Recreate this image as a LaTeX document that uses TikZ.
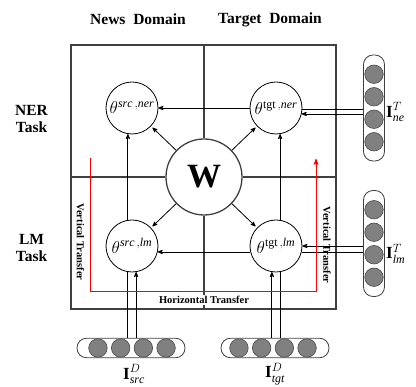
\documentclass[tikz,border=0pt]{standalone}
\usepackage{amsmath}
\usepackage{fontspec}
\setmainfont{Liberation Serif}
\usetikzlibrary{positioning,arrows}

\begin{document}
\begin{tikzpicture}[>=stealth',x=1pt,y=-1pt,
  state/.style={circle,draw,line width=0.8pt,minimum size=52pt,inner sep=0pt,font=\fontsize{17}{17}\selectfont},
  frame/.style={draw=black!75,line width=1.3pt},
  pill/.style={draw=black!75,line width=0.8pt,rounded corners=9.5pt,inner sep=0pt},
  unit/.style={circle,draw=black!70,fill=black!50,line width=0.6pt,minimum size=18.5pt,inner sep=0pt},
  head/.style={font=\fontsize{15.5}{18}\selectfont\bfseries},
  task/.style={font=\fontsize{15.5}{17}\selectfont\bfseries,align=center},
  transfer/.style={font=\fontsize{10.5}{12}\selectfont\bfseries},
  inlabel/.style={font=\fontsize{17}{17}\selectfont,inner sep=0pt},
  link/.style={->,line width=0.8pt},
  plain/.style={line width=0.8pt}]

    \useasboundingbox (0,0) rectangle (416,387);

    % The grid
    \node [frame,minimum width=265pt,minimum height=264pt,inner sep=0pt] at (203.5,177) (grid) {};
    \node [circle,frame,minimum size=76pt,inner sep=0pt,font=\fontsize{34}{34}\selectfont\bfseries] at (204,177) (W) {W};
    \draw [frame] (W.north) -- (W.north |- grid.north);
    \draw [frame] (W.south) -- (W.south |- grid.south);
    \draw [frame] (W.west) -- (W.west -| grid.west);
    \draw [frame] (W.east) -- (W.east -| grid.east);

    \node [head] at (138,19.5) (news) {News\ \ Domain};
    \node [head] at (270,19.5) (target) {Target\ \ Domain};
    \node [task] at (31.5,119) (ner) {NER\\Task};
    \node [task] at (31.5,248) (lm) {LM\\Task};

    % Parameters
    \node [state] at (132,108) (srcner) {$\theta^{\mathit{src}\,,\mathit{ner}}$};
    \node [state] at (276,108) (tgtner) {$\theta^{\mathrm{tgt}\,,\mathit{ner}}$};
    \node [state] at (132,246) (srclm) {$\theta^{\mathit{src}\,,\mathit{lm}}$};
    \node [state] at (276,246) (tgtlm) {$\theta^{\mathrm{tgt}\,,\mathit{lm}}$};

    % Inputs
    \node [pill,minimum width=21pt,minimum height=106pt] at (374,108) (nepill) {};
    \node [pill,minimum width=21pt,minimum height=106pt] at (374,243.5) (lmpill) {};
    \node [pill,minimum width=108pt,minimum height=19.5pt] at (131,348) (srcpill) {};
    \node [pill,minimum width=108pt,minimum height=19.5pt] at (275,348) (tgtpill) {};
    \foreach \i in {1,...,4} {
      \node [unit] at (374,{108+(\i-2.5)*22.5}) (ne\i) {};
      \node [unit] at (374,{243.5+(\i-2.5)*22.5}) (lm\i) {};
      \node [unit] at ({132+(\i-2.5)*22.7},348) (src\i) {};
      \node [unit] at ({273+(\i-2.5)*22.7},348) (tgt\i) {};
    }

    \node [inlabel,anchor=west] at (386,112) (nein) {$\mathbf{I}^{T}_{\mathit{ne}}$};
    \node [inlabel,anchor=west] at (386,254) (lmin) {$\mathbf{I}^{T}_{\mathit{lm}}$};
    \node [inlabel] at (134,374) (srcin) {$\mathbf{I}^{D}_{\mathit{src}}$};
    \node [inlabel] at (275,374) (tgtin) {$\mathbf{I}^{D}_{\mathit{tgt}}$};

    % Edges
    \draw [link] (tgtner) -- (srcner);
    \draw [link] (tgtlm.193) -- (srclm.347);
    \draw [link] (srclm.99) -- (srcner.261);
    \draw [link] (tgtlm.81) -- (tgtner.279);
    \draw [link,shorten >=2pt] (W) -- (srcner);
    \draw [link,shorten >=2pt] (W) -- (tgtner);
    \draw [link,shorten >=2pt] (W) -- (srclm);
    \draw [link,shorten >=2pt] (W) -- (tgtlm);

    \draw [plain] (tgtner.358) -- (tgtner.358 -| nepill.west);
    \draw [link] (tgtner.347 -| nepill.west) -- (tgtner.347);
    \draw [link] (tgtlm.east -| lmpill.west) -- (tgtlm.east);
    \draw [plain] (tgtlm.347) -- (tgtlm.347 -| lmpill.west);
    \draw [plain] (srclm.261) -- (srclm.261 |- srcpill.north);
    \draw [link] (srclm.279 |- srcpill.north) -- (srclm.279);
    \draw [link] (tgtlm.261 |- tgtpill.north) -- (tgtlm.261);
    \draw [plain] (tgtlm.279) -- (tgtlm.279 |- tgtpill.north);

    % Transfer
    \coordinate (vstart) at (90,158);
    \coordinate (vend) at (316,159);
    \coordinate (hbase) at (204,292);
    \draw [->,red,line width=1pt] (vstart) -- (vstart |- hbase) -- (vend |- hbase) -- (vend);
    \node [transfer,rotate=-90] at (80.5,242) (vleft) {Vertical Transfer};
    \node [transfer,rotate=-90] at (327,245) (vright) {Vertical Transfer};
    \node [transfer,fill=white,inner sep=1pt] at (204,300) (htrans) {Horizontal Transfer};

\end{tikzpicture}
\end{document}
